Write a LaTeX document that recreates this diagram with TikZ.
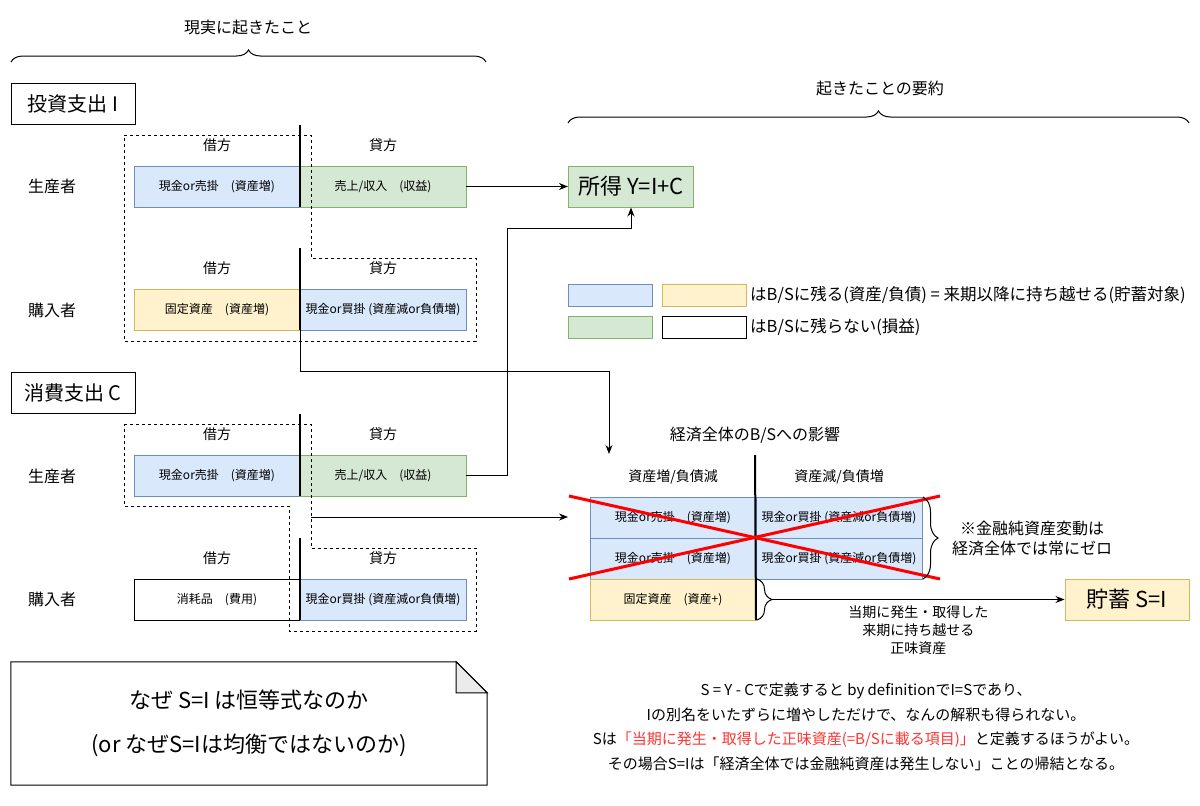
\documentclass[tikz,border=0pt]{standalone}
\usepackage{fontspec}
\setmainfont{Noto Sans CJK JP}
\usetikzlibrary{positioning,calc,decorations.pathreplacing,arrows.meta}

\definecolor{assetfill}{HTML}{DAE8FC}
\definecolor{assetline}{HTML}{6C8EBF}
\definecolor{flowfill}{HTML}{D5E8D4}
\definecolor{flowline}{HTML}{82B366}
\definecolor{fixfill}{HTML}{FFF2CC}
\definecolor{fixline}{HTML}{D6B656}
\definecolor{crossred}{HTML}{FF0000}
\definecolor{notered}{HTML}{FF3333}
\definecolor{foldgray}{HTML}{EBEBEB}

\newcommand{\fsz}[2]{\fontsize{#1}{#2}\selectfont}

\begin{document}
\begin{tikzpicture}[x=1pt, y=-1pt,
    entry/.style={draw, line width=1pt, minimum width=166pt, minimum height=41pt, inner sep=0pt, outer sep=0pt, font=\fsz{12}{14}},
    bsasset/.style={entry, fill=assetfill, draw=assetline},
    bsflow/.style={entry, fill=flowfill, draw=flowline},
    bsfixed/.style={entry, fill=fixfill, draw=fixline},
    bsexpense/.style={entry, fill=white, draw=black},
    side/.style={inner sep=0pt, font=\fsz{14}{16}},
    actor/.style={inner sep=0pt, font=\fsz{16}{18}},
    caption/.style={inner sep=0pt, font=\fsz{16}{18}},
    headbox/.style={draw, line width=1pt, minimum width=124pt, minimum height=41pt, inner sep=0pt, font=\fsz{20}{22}},
    resultbox/.style={headbox, font=\fsz{22}{24}},
    legendbox/.style={draw, line width=1pt, minimum width=84pt, minimum height=22pt, inner sep=0pt, outer sep=0pt},
    legendtext/.style={inner sep=0pt, font=\fsz{16.5}{18}},
    divider/.style={line width=2pt},
    zone/.style={line width=1pt, dash pattern=on 3pt off 3pt},
    flowarrow/.style={-{Stealth[length=9pt, width=7pt]}, line width=1pt},
    curlybrace/.style={decorate, decoration={brace, amplitude=#1}, line width=1pt},
    curlybrace/.default=12pt,
    cross/.style={crossred, line width=3pt}
  ]
  \useasboundingbox (0,0) rectangle (1200,806);
  \fill[white] (0,0) rectangle (1200,806);

  \node[caption] (realLabel) at (248,27) {現実に起きたこと};
  \draw[curlybrace] (11,62) -- (486,62);

  \node[headbox] (invest) at (73,104) {投資支出 I};
  \node[actor] (invProd) at (52,186) {生産者};
  \node[actor] (invBuyer) at (52,310) {購入者};
  \node[bsasset, anchor=north west] (invPd) at (134,166) {現金or売掛　(資産増)};
  \node[bsflow, right=0pt of invPd] (invPc) {売上/収入　(収益)};
  \node[side, above=14pt of invPd] (invPdHead) {借方};
  \node[side, above=14pt of invPc] (invPcHead) {貸方};
  \node[bsfixed, anchor=north west] (invBd) at (134,289) {固定資産　(資産増)};
  \node[bsasset, right=0pt of invBd] (invBc) {現金or買掛 (資産減or負債増)};
  \node[side, above=14pt of invBd] (invBdHead) {借方};
  \node[side, above=14pt of invBc] (invBcHead) {貸方};
  \draw[divider] (300,125) -- (invPd.south east);
  \draw[divider] (300,248) -- (invBd.south east);
  \draw[zone] (124,135) -- (311,135) -- (311,258) -- (476,258) -- (476,341) -- (124,341) -- cycle;

  \node[headbox] (consume) at (73,393) {消費支出 C};
  \node[actor] (cnProd) at (52,476) {生産者};
  \node[actor] (cnBuyer) at (52,599) {購入者};
  \node[bsasset, anchor=north west] (cnPd) at (134,455) {現金or売掛　(資産増)};
  \node[bsflow, right=0pt of cnPd] (cnPc) {売上/収入　(収益)};
  \node[side, above=14pt of cnPd] (cnPdHead) {借方};
  \node[side, above=14pt of cnPc] (cnPcHead) {貸方};
  \node[bsexpense, anchor=north west] (cnBd) at (134,579) {消耗品　(費用)};
  \node[bsasset, right=0pt of cnBd] (cnBc) {現金or買掛 (資産減or負債増)};
  \node[side, above=14pt of cnBd] (cnBdHead) {借方};
  \node[side, above=14pt of cnBc] (cnBcHead) {貸方};
  \draw[divider] (300,414) -- (cnPd.south east);
  \draw[divider] (300,538) -- (cnBd.south east);
  \draw[zone] (124,424) -- (311,424) -- (311,548) -- (476,548) -- (476,631) -- (289,631) -- (289,506) -- (124,506) -- cycle;

  \node[caption] (sumLabel) at (880,88) {起きたことの要約};
  \draw[curlybrace] (568,123) -- (1189,123);
  \node[resultbox, minimum width=125pt, fill=flowfill, draw=flowline] (income) at (631,186.5) {所得 Y=I+C};

  \node[legendbox, fill=assetfill, draw=assetline, anchor=north west] (lgAsset) at (568,284) {};
  \node[legendbox, fill=fixfill, draw=fixline, right=10pt of lgAsset] (lgFixed) {};
  \node[legendtext, right=4pt of lgFixed] (lgKeep) {はB/Sに残る(資産/負債) = 来期以降に持ち越せる(貯蓄対象)};
  \node[legendbox, fill=flowfill, draw=flowline, anchor=north west] (lgFlow) at (568,316) {};
  \node[legendbox, fill=white, draw=black, right=10pt of lgFlow] (lgExpense) {};
  \node[legendtext, right=4pt of lgExpense] (lgDrop) {はB/Sに残らない(損益)};

  \node[caption] (econTitle) at (755,435) {経済全体のB/Sへの影響};
  \node[bsasset, anchor=north west] (ecA1) at (590,497) {現金or売掛　(資産増)};
  \node[bsasset, right=0pt of ecA1] (ecL1) {現金or買掛 (資産減or負債増)};
  \node[bsasset, below=0pt of ecA1] (ecA2) {現金or売掛　(資産増)};
  \node[bsasset, right=0pt of ecA2] (ecL2) {現金or買掛 (資産減or負債増)};
  \node[bsfixed, below=0pt of ecA2] (ecFix) {固定資産　(資産+)};
  \node[side, above=13pt of ecA1] (ecAHead) {資産増/負債減};
  \node[side, above=13pt of ecL1] (ecLHead) {資産減/負債増};
  \draw[divider] (755,455) -- (ecFix.south east);
  \draw[cross] (569,496) -- (940,579);
  \draw[cross] (569,579) -- (940,496);
  \draw[curlybrace=15pt] ($(ecL1.north east)+(1,0)$) -- ($(ecL2.south east)+(1,0)$);
  \node[align=center, inner sep=0pt, font=\fsz{16}{20}] (zeroNote) at (1032,538) {※金融純資産変動は\\経済全体では常にゼロ};
  \draw[curlybrace=15pt] ($(ecFix.north east)+(1,0)$) -- ($(ecFix.south east)+(1,0)$);
  \coordinate (fixTip) at ($(ecFix.east)+(16,0)$);
  \node[resultbox, fill=fixfill, draw=fixline] (saving) at (1127,599.5) {貯蓄 S=I};

  \coordinate (jogC) at (507,228);
  \coordinate (tipI) at (609,454);
  \coordinate (dashC) at (311,517);
  \coordinate (tipC) at (568,517);
  \draw[flowarrow] (invPc.east) -- (income.west);
  \draw[flowarrow] (cnPc.east) -| (jogC) -| (income.south);
  \draw[flowarrow] (invBd.south east) -- ++(0,41) -| (tipI);
  \draw[flowarrow] (dashC) -- (tipC);
  \draw[flowarrow] (fixTip) -- node[below=6pt, inner sep=0pt, align=center, font=\fsz{14}{18}] (netLabel) {当期に発生・取得した\\来期に持ち越せる\\正味資産} (saving.west);

  \node[align=center, font=\fsz{22}{44}, minimum width=476pt, minimum height=123pt, inner sep=0pt] (why) at (249,723.5) {なぜ S=I は恒等式なのか\\(or なぜS=Iは均衡ではないのか)};
  \draw[line width=1pt] (why.north west) -- ($(why.north east)+(-31,0)$) -- ($(why.north east)+(0,31)$) -- (why.south east) -- (why.south west) -- cycle;
  \filldraw[line width=1pt, fill=foldgray] ($(why.north east)+(-31,0)$) -- ($(why.north east)+(-31,31)$) -- ($(why.north east)+(0,31)$) -- cycle;

  \node[align=center, inner sep=0pt, font=\fsz{15}{24.5}] (verdict) at (866,727) {S = Y - Cで定義すると by definitionでI=Sであり、\\Iの別名をいたずらに増やしただけで、なんの解釈も得られない。\\Sは\textcolor{notered}{「当期に発生・取得した正味資産(=B/Sに載る項目)」}と定義するほうがよい。\\その場合S=Iは「経済全体では金融純資産は発生しない」ことの帰結となる。};
\end{tikzpicture}
\end{document}
